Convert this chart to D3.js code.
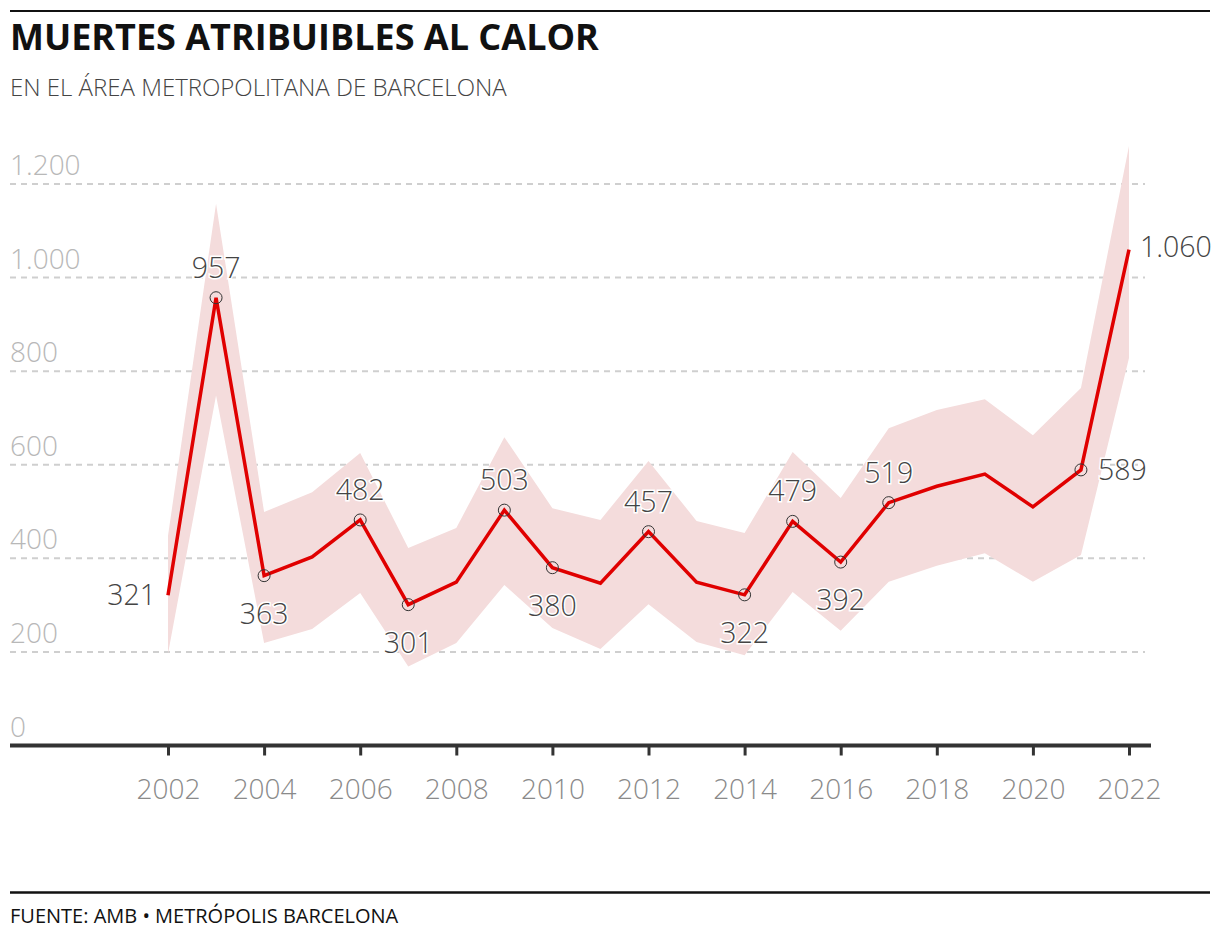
<!DOCTYPE html>
<html>
<head>
<meta charset="utf-8">
<script src="https://cdn.jsdelivr.net/npm/d3@7"></script>
<style>
  body { margin: 0; background: #fff; }
  svg text { font-family: "Open Sans", sans-serif; }
</style>
</head>
<body>
<svg id="chart" width="1220" height="942"></svg>
<script>
const years = [2002, 2003, 2004, 2005, 2006, 2007, 2008, 2009, 2010, 2011, 2012,
  2013, 2014, 2015, 2016, 2017, 2018, 2019, 2020, 2021, 2022];
const deaths = [321, 957, 363, 403, 482, 301, 349, 503, 380, 347, 457,
  349, 322, 479, 392, 519, 554, 580, 510, 589, 1060];
const upper = [448, 1158, 499, 541, 625, 422, 465, 659, 507, 482, 608,
  480, 454, 627, 529, 678, 717, 740, 663, 764, 1281];
const lower = [196, 748, 219, 249, 326, 169, 219, 343, 251, 206, 302,
  221, 193, 328, 245, 350, 384, 411, 350, 407, 828];
const yTicks = [0, 200, 400, 600, 800, 1000, 1200];
const xTicks = [2002, 2004, 2006, 2008, 2010, 2012, 2014, 2016, 2018, 2020, 2022];

// where each value label goes
const labelPos = {
  2002: "left", 2003: "above", 2004: "below", 2006: "above", 2007: "below",
  2009: "above", 2010: "below", 2012: "above", 2014: "below", 2015: "above",
  2016: "below", 2017: "above", 2021: "right", 2022: "right"
};

const es = d3.formatLocale({ decimal: ",", thousands: ".", grouping: [3], currency: ["", " €"] });
const fmt = es.format(",d");

const svg = d3.select("#chart");
const x = d3.scaleLinear().domain([2002, 2022]).range([168, 1129]);
const y = d3.scaleLinear().domain([0, 1200]).range([745.5, 184]);

const data = years.map((yr, i) => ({ year: yr, v: deaths[i], hi: upper[i], lo: lower[i] }));

// header
svg.append("line").attr("x1", 10).attr("x2", 1210).attr("y1", 11).attr("y2", 11)
  .attr("stroke", "#111").attr("stroke-width", 2);
svg.append("text").attr("x", 10).attr("y", 50)
  .attr("font-size", 36).attr("font-weight", 700).attr("fill", "#111")
  .text("MUERTES ATRIBUIBLES AL CALOR");
svg.append("text").attr("x", 10).attr("y", 96)
  .attr("font-size", 24).attr("font-weight", 300).attr("fill", "#444")
  .text("EN EL ÁREA METROPOLITANA DE BARCELONA");

// grid
const grid = svg.append("g");
grid.selectAll("line").data(yTicks.filter(d => d > 0)).join("line")
  .attr("x1", 10).attr("x2", 1145)
  .attr("y1", d => y(d)).attr("y2", d => y(d))
  .attr("stroke", "#cfcfcf").attr("stroke-width", 2).attr("stroke-dasharray", "6,5");
grid.selectAll("text").data(yTicks).join("text")
  .attr("x", 10).attr("y", d => y(d) - 9)
  .attr("font-size", 28).attr("font-weight", 300).attr("fill", "#b8b8b8")
  .text(d => fmt(d));

// band
svg.append("path").datum(data)
  .attr("fill", "#f4dcdc")
  .attr("d", d3.area().x(d => x(d.year)).y0(d => y(d.lo)).y1(d => y(d.hi)));

// x axis
const xAxis = svg.append("g").attr("transform", "translate(0,745.5)")
  .call(d3.axisBottom(x).tickValues(xTicks).tickFormat(d3.format("d")).tickSize(10).tickPadding(24));
xAxis.select(".domain").remove();
xAxis.insert("line", ":first-child").attr("x1", 10).attr("x2", 1151)
  .attr("stroke", "#333").attr("stroke-width", 4);
xAxis.selectAll(".tick line").attr("stroke", "#333").attr("stroke-width", 3);
xAxis.selectAll(".tick text").attr("font-size", 28).attr("font-weight", 300)
  .attr("fill", "#8a8a8a").attr("font-family", "Open Sans, sans-serif");

// line
svg.append("path").datum(data)
  .attr("fill", "none").attr("stroke", "#e00000").attr("stroke-width", 3.5)
  .attr("stroke-linejoin", "miter")
  .attr("d", d3.line().x(d => x(d.year)).y(d => y(d.v)));

// markers
const marked = data.filter(d => labelPos[d.year] && d.year !== 2002 && d.year !== 2022);
svg.append("g").selectAll("circle").data(marked).join("circle")
  .attr("cx", d => x(d.year)).attr("cy", d => y(d.v)).attr("r", 6)
  .attr("fill", "none").attr("stroke", "#333").attr("stroke-width", 1);

// value labels
const labelled = data.filter(d => labelPos[d.year]);
svg.append("g").selectAll("text").data(labelled).join("text")
  .attr("x", d => {
    const p = labelPos[d.year];
    if (p === "left") return x(d.year) - 12;
    if (p === "right") return x(d.year) + (d.year === 2022 ? 11 : 17);
    return x(d.year);
  })
  .attr("y", d => {
    const p = labelPos[d.year];
    if (p === "above") return y(d.v) - 20;
    if (p === "below") return y(d.v) + 48;
    return y(d.v) + (d.year === 2022 ? 7 : 10);
  })
  .attr("text-anchor", d => labelPos[d.year] === "left" ? "end" : labelPos[d.year] === "right" ? "start" : "middle")
  .attr("font-size", 28.5).attr("font-weight", 300).attr("fill", "#444")
  .attr("stroke", "#fff").attr("stroke-width", 3).attr("paint-order", "stroke")
  .text(d => fmt(d.v));

// footer
svg.append("line").attr("x1", 10).attr("x2", 1210).attr("y1", 892.5).attr("y2", 892.5)
  .attr("stroke", "#111").attr("stroke-width", 2.5);
svg.append("text").attr("x", 10).attr("y", 923)
  .attr("font-size", 20).attr("fill", "#111")
  .text("FUENTE: AMB • METRÓPOLIS BARCELONA");
</script>
</body>
</html>
